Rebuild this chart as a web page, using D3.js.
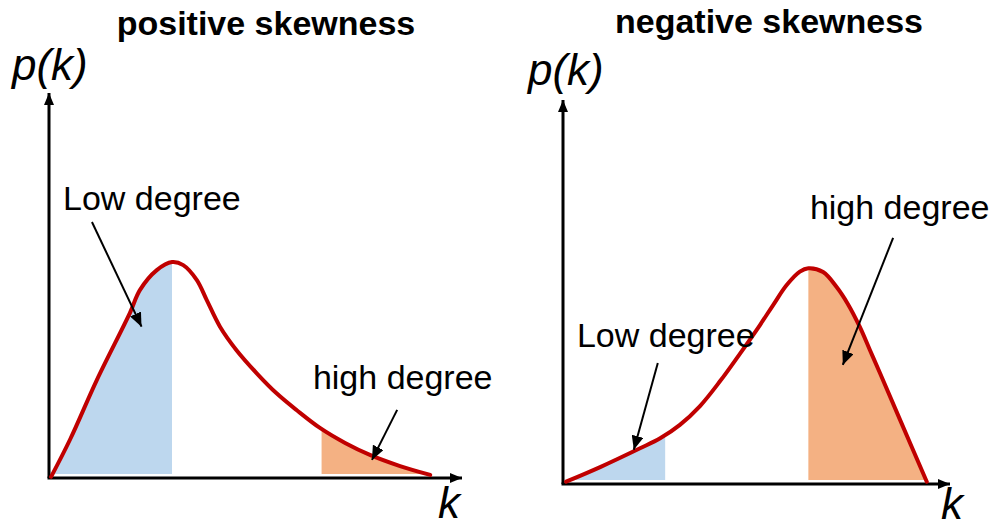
<!DOCTYPE html>
<html>
<head>
<meta charset="utf-8">
<script src="https://cdn.jsdelivr.net/npm/d3@7"></script>
<style>
  body { margin: 0; background: #fff; }
  text { font-family: "Liberation Sans", Arial, sans-serif; }
</style>
</head>
<body>
<div id="chart"></div>
<script>
// Panel titles
const titles = ["positive skewness", "negative skewness"];

// Curve shapes (k on 0-10, p on 0-1)
const posK = [0.05, 0.51, 1.16, 1.96, 2.20, 2.61, 2.98, 3.25, 3.58, 3.82, 4.14, 4.54, 5.03, 5.51, 6.00, 6.56, 7.17, 7.77, 8.50, 9.23];
const posP = [0.003, 0.10, 0.255, 0.429, 0.488, 0.540, 0.561, 0.553, 0.514, 0.462, 0.393, 0.332, 0.272, 0.220, 0.176, 0.130, 0.091, 0.060, 0.031, 0.008];
const negK = [0.08, 0.96, 1.99, 2.51, 3.02, 3.54, 4.06, 4.57, 5.09, 5.43, 5.78, 6.12, 6.34, 6.72, 7.07, 7.36, 7.67, 7.93, 8.19, 8.71, 9.40];
const negP = [0.006, 0.044, 0.093, 0.119, 0.154, 0.203, 0.268, 0.339, 0.414, 0.466, 0.518, 0.553, 0.562, 0.552, 0.513, 0.469, 0.409, 0.349, 0.289, 0.167, 0.006];

// Shaded ranges of k: [low degree, high degree]
const posShade = [[0.05, 2.98], [6.60, 9.23]];
const negShade = [[0.08, 2.64], [6.34, 9.40]];

// Labels
const labelLow = "Low degree";
const labelHigh = "high degree";

const width = 995, height = 527;

const svg = d3.select("#chart")
  .append("svg")
    .attr("width", width)
    .attr("height", height);

const defs = svg.append("defs");

// Arrow heads
defs.append("marker")
    .attr("id", "axisHead")
    .attr("markerUnits", "userSpaceOnUse")
    .attr("viewBox", "0 0 12 10")
    .attr("refX", 12).attr("refY", 5)
    .attr("markerWidth", 12).attr("markerHeight", 10)
    .attr("orient", "auto")
  .append("path")
    .attr("d", "M0,0L12,5L0,10Z")
    .attr("fill", "#000");

defs.append("marker")
    .attr("id", "noteHead")
    .attr("markerUnits", "userSpaceOnUse")
    .attr("viewBox", "0 0 14 12")
    .attr("refX", 14).attr("refY", 6)
    .attr("markerWidth", 14).attr("markerHeight", 12)
    .attr("orient", "auto")
  .append("path")
    .attr("d", "M0,0L14,6L0,12Z")
    .attr("fill", "#000");

const panels = [
  {
    id: "pos", title: titles[0], ks: posK, ps: posP, shade: posShade,
    xr: [49, 462], yr: [478, 93], titleX: 266, titleY: 35,
    pkX: 12, pkY: 80, kX: 438, kY: 518,
    notes: [
      {text: labelLow, tx: 0.34, ty: 0.696, from: [1.04, 0.665], to: [2.24, 0.393]},
      {text: labelHigh, tx: 6.39, ty: 0.231, from: [8.43, 0.177], to: [7.82, 0.047]}
    ]
  },
  {
    id: "neg", title: titles[1], ks: negK, ps: negP, shade: negShade,
    xr: [563, 950], yr: [484, 100], titleX: 769, titleY: 33,
    pkX: 528, pkY: 85, kX: 941, kY: 519,
    notes: [
      {text: labelLow, tx: 0.36, ty: 0.357, from: [2.45, 0.315], to: [1.83, 0.089]},
      {text: labelHigh, tx: 6.38, ty: 0.690, from: [8.53, 0.641], to: [7.23, 0.310]}
    ]
  }
];

const fills = ["#bdd7ee", "#f4b183"];

panels.forEach(function(pn) {
  const x = d3.scaleLinear().domain([0, 10]).range(pn.xr);
  const y = d3.scaleLinear().domain([0, 1]).range(pn.yr);
  const pts = pn.ks.map((k, i) => [k, pn.ps[i]]);
  const g = svg.append("g");

  const line = d3.line()
    .x(d => x(d[0]))
    .y(d => y(d[1]))
    .curve(d3.curveCatmullRom.alpha(0.5));

  const area = d3.area()
    .x(d => x(d[0]))
    .y0(y(0) - 4)
    .y1(d => y(d[1]))
    .curve(d3.curveCatmullRom.alpha(0.5));

  // shaded regions, clipped to their k range
  pn.shade.forEach(function(r, i) {
    const cid = "clip-" + pn.id + i;
    defs.append("clipPath").attr("id", cid)
      .append("rect")
        .attr("x", x(r[0]))
        .attr("y", 0)
        .attr("width", x(r[1]) - x(r[0]))
        .attr("height", height);
    g.append("path")
      .datum(pts)
      .attr("d", area)
      .attr("fill", fills[i])
      .attr("clip-path", "url(#" + cid + ")");
  });

  // axes
  g.append("line")
    .attr("x1", x(0)).attr("y1", y(0))
    .attr("x2", x(0)).attr("y2", y(1))
    .attr("stroke", "#000").attr("stroke-width", 3)
    .attr("marker-end", "url(#axisHead)");
  g.append("line")
    .attr("x1", x(0) - 1.5).attr("y1", y(0))
    .attr("x2", x(10)).attr("y2", y(0))
    .attr("stroke", "#000").attr("stroke-width", 3)
    .attr("marker-end", "url(#axisHead)");

  // curve
  g.append("path")
    .datum(pts)
    .attr("d", line)
    .attr("fill", "none")
    .attr("stroke", "#c00000")
    .attr("stroke-width", 4)
    .attr("stroke-linecap", "round");

  // annotations
  pn.notes.forEach(function(n) {
    g.append("line")
      .attr("x1", x(n.from[0])).attr("y1", y(n.from[1]))
      .attr("x2", x(n.to[0])).attr("y2", y(n.to[1]))
      .attr("stroke", "#000").attr("stroke-width", 2)
      .attr("marker-end", "url(#noteHead)");
    g.append("text")
      .attr("x", x(n.tx)).attr("y", y(n.ty))
      .attr("font-size", 34)
      .attr("fill", "#000")
      .text(n.text);
  });

  // titles and axis labels
  g.append("text")
    .attr("x", pn.titleX).attr("y", pn.titleY)
    .attr("text-anchor", "middle")
    .attr("font-size", 34)
    .attr("font-weight", "bold")
    .text(pn.title);
  g.append("text")
    .attr("x", pn.pkX).attr("y", pn.pkY)
    .attr("font-size", 44)
    .attr("font-style", "italic")
    .text("p(k)");
  g.append("text")
    .attr("x", pn.kX).attr("y", pn.kY)
    .attr("font-size", 44)
    .attr("font-style", "italic")
    .text("k");
});
</script>
</body>
</html>
